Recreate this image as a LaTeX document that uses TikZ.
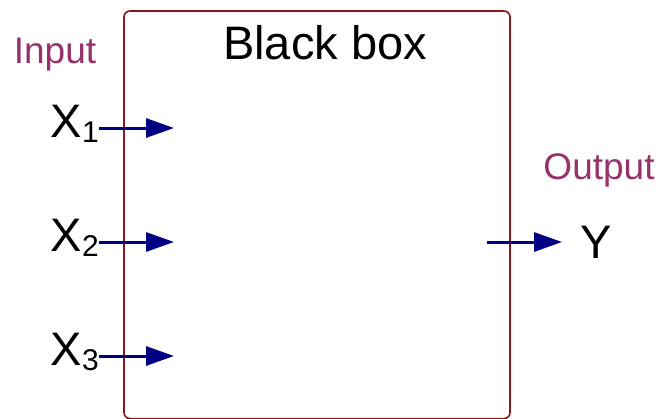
\documentclass[tikz,border=0pt]{standalone}
\usepackage{fontspec}
\setmainfont{Liberation Sans}
\usetikzlibrary{arrows.meta}
\definecolor{boxred}{RGB}{140,22,28}
\definecolor{labelpurple}{RGB}{150,50,105}
\definecolor{arrowblue}{RGB}{0,0,130}
\newcommand{\subidx}[1]{\raisebox{-0.12em}{\fontsize{30}{30}\selectfont #1}}
\tikzset{
  x=1pt, y=-1pt,
  boxframe/.style={draw=boxred, line width=1.6pt, rounded corners=6pt},
  bigtext/.style={font=\fontsize{47}{56}\selectfont, text=black, inner sep=0pt},
  tagtext/.style={font=\fontsize{37}{44}\selectfont, text=labelpurple, inner sep=0pt},
  signal/.style={draw=arrowblue, line width=3pt,
    -{Triangle[length=28pt,width=19pt]}, arrowblue},
}
\begin{document}
\begin{tikzpicture}
\useasboundingbox (0,0) rectangle (660,418);

% the box itself, its lower edge running along the page border
\draw[boxframe] (124,11) rectangle (510,418.6);
\node[bigtext] (title) at (325,43) {Black box};

% inputs
\node[tagtext] (intag) at (55,55) {Input};
\node[bigtext, anchor=base east] (x1) at (99,137) {X\subidx{1}};
\node[bigtext, anchor=base east] (x2) at (99,251) {X\subidx{2}};
\node[bigtext, anchor=base east] (x3) at (99,365) {X\subidx{3}};
\coordinate (x1end) at (174,128);
\coordinate (x2end) at (174,242);
\coordinate (x3end) at (174,356);
\draw[signal] (x1.east |- x1end) -- (x1end);
\draw[signal] (x2.east |- x2end) -- (x2end);
\draw[signal] (x3.east |- x3end) -- (x3end);

% output
\node[tagtext] (outtag) at (599,170) {Output};
\node[bigtext] (y) at (596,242) {Y};
\coordinate (ystart) at (487,242);
\draw[signal] (ystart) -- (y.west -| 562,0);
\end{tikzpicture}
\end{document}
